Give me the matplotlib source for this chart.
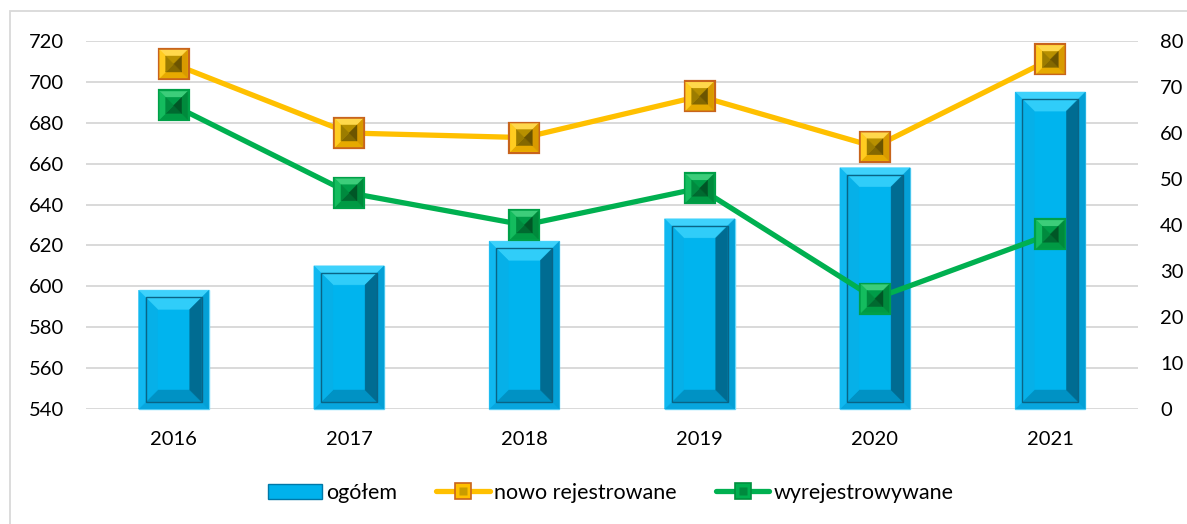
import matplotlib
matplotlib.use("Agg")
import matplotlib.pyplot as plt
from matplotlib.patches import Polygon, Rectangle, Patch
from matplotlib.lines import Line2D
from matplotlib.legend_handler import HandlerTuple
from matplotlib.transforms import IdentityTransform

# --- dane ---
years = ["2016", "2017", "2018", "2019", "2020", "2021"]
ogolem = [598, 610, 622, 633, 658, 695]
nowo_rejestrowane = [75, 60, 59, 68, 57, 76]
wyrejestrowywane = [66, 47, 40, 48, 24, 38]

left_ticks = list(range(540, 721, 20))
right_ticks = list(range(0, 81, 10))

plt.rcParams["font.family"] = ["Lato", "DejaVu Sans"]
FS = 14.5

W, H = 1187, 524
fig = plt.figure(figsize=(W / 100, H / 100), dpi=100)
ax = fig.add_axes([86 / W, 1 - 409 / H, (1138 - 86) / W, (409 - 41) / H])
ax2 = ax.twinx()

x = list(range(len(years)))
ax.set_xlim(-0.5, len(years) - 0.5)
ax.set_ylim(left_ticks[0], left_ticks[-1])
ax2.set_ylim(right_ticks[0], right_ticks[-1])
ax.set_yticks(left_ticks)
ax2.set_yticks(right_ticks)
ax.set_xticks(x, years)
ax.grid(axis="y", color="#d9d9d9", linewidth=1.4)
ax.set_axisbelow(True)
for a in (ax, ax2):
    for s in a.spines.values():
        s.set_visible(False)
    a.tick_params(length=0, labelsize=FS, colors="black")
ax.tick_params(axis="y", pad=16)
ax.tick_params(axis="x", pad=16)
ax2.tick_params(axis="y", pad=16)

ID = IdentityTransform()


def rect(a, box, fc, ec="none", lw=0, z=3):
    x0, y0, x1, y1 = box
    a.add_patch(Rectangle((x0, y0), x1 - x0, y1 - y0, facecolor=fc, edgecolor=ec,
                          linewidth=lw, transform=ID, zorder=z, clip_on=False))


def frame(a, box, k, top, left, right, bottom, z=3):
    """Cztery trapezy fazy (efekt 'bevel'); zwraca wewnetrzny prostokat."""
    x0, y0, x1, y1 = box
    i0, j0, i1, j1 = x0 + k, y0 + k, x1 - k, y1 - k
    polys = [
        ([(x0, y1), (x1, y1), (i1, j1), (i0, j1)], top),
        ([(x0, y0), (x1, y0), (i1, j0), (i0, j0)], bottom),
        ([(x0, y0), (x0, y1), (i0, j1), (i0, j0)], left),
        ([(x1, y0), (x1, y1), (i1, j1), (i1, j0)], right),
    ]
    for pts, c in polys:
        a.add_patch(Polygon(pts, closed=True, facecolor=c, edgecolor=c, linewidth=0.3,
                            transform=ID, zorder=z, clip_on=False))
    return (i0, j0, i1, j1)


# --- slupki (ogolem) ---
bw = 0.4
for i, v in enumerate(ogolem):
    (xl, yb), (xr, yt) = ax.transData.transform([(i - bw / 2, left_ticks[0]), (i + bw / 2, v)])
    box = (xl, yb, xr, yt)
    rect(ax, box, "#00b6f0", "#6ad8fa", 1.0)
    inner = frame(ax, box, 7, "#3ed2fc", "#10b8f0", "#04a0d6", "#08a6de")
    rect(ax, inner, "#00b4ee")
    frame(ax, inner, 12, "#30cdf9", "#06b0e8", "#006c92", "#0092c4")
    rect(ax, inner, "none", "#0a6486", 1.0, z=3.1)


# --- linie ---
def draw_markers(vals, col, edge, fr, pyr):
    for i, v in enumerate(vals):
        cx, cy = ax2.transData.transform((i, v))
        s = 15
        box = (cx - s, cy - s, cx + s, cy + s)
        rect(ax2, box, col, edge, 1.6, z=5)
        inner = frame(ax2, (box[0] + 1, box[1] + 1, box[2] - 1, box[3] - 1), 6, *fr, z=5)
        frame(ax2, inner, (inner[2] - inner[0]) / 2, *pyr, z=5)


ax2.plot(x, nowo_rejestrowane, color="#ffc000", linewidth=3.8, zorder=4, solid_capstyle="round")
ax2.plot(x, wyrejestrowywane, color="#00b050", linewidth=3.8, zorder=4, solid_capstyle="round")
draw_markers(nowo_rejestrowane, "#ffc000", "#c8641c",
             ("#ffd84c", "#ffcc20", "#d89a00", "#e6aa00"),
             ("#b89000", "#9c7c00", "#6c5400", "#846800"))
draw_markers(wyrejestrowywane, "#00b050", "#00a048",
             ("#3ccd7a", "#14bc5e", "#008a3c", "#009a44"),
             ("#009c48", "#008a3e", "#005626", "#006a30"))

# --- ramka wykresu ---
fig.patches.append(Rectangle((10 / W, -0.1), 1.2, 1 - 11 / H + 0.1, transform=fig.transFigure,
                             facecolor="none", edgecolor="#d9d9d9", linewidth=1.3))

# --- legenda ---
h_bar = Patch(facecolor="#00b2ec", edgecolor="#0078a8", linewidth=1.0)
h_nowo = (Line2D([], [], color="#ffc000", linewidth=3.8, solid_capstyle="round"),
          Line2D([], [], linestyle="none", marker="s", markersize=11,
                 markerfacecolor="#ffc000", markeredgecolor="#c8641c", markeredgewidth=1.2),
          Line2D([], [], linestyle="none", marker="s", markersize=5.5,
                 markerfacecolor="#c89c00", markeredgecolor="none"))
h_wyr = (Line2D([], [], color="#00b050", linewidth=3.8, solid_capstyle="round"),
         Line2D([], [], linestyle="none", marker="s", markersize=11,
                markerfacecolor="#00b050", markeredgecolor="#00903e", markeredgewidth=1.2),
         Line2D([], [], linestyle="none", marker="s", markersize=5.5,
                markerfacecolor="#008a3e", markeredgecolor="none"))
fig.legend([h_bar, h_nowo, h_wyr], ["ogółem", "nowo rejestrowane", "wyrejestrowywane"],
           handler_map={tuple: HandlerTuple(ndivide=1, pad=0)}, numpoints=1,
           loc="center", bbox_to_anchor=(611 / W, 1 - 493 / H), ncol=3, frameon=False,
           fontsize=15.5, handlelength=2.5, handleheight=0.7, handletextpad=0.2,
           columnspacing=1.8)

fig.savefig("out.png", dpi=100)
